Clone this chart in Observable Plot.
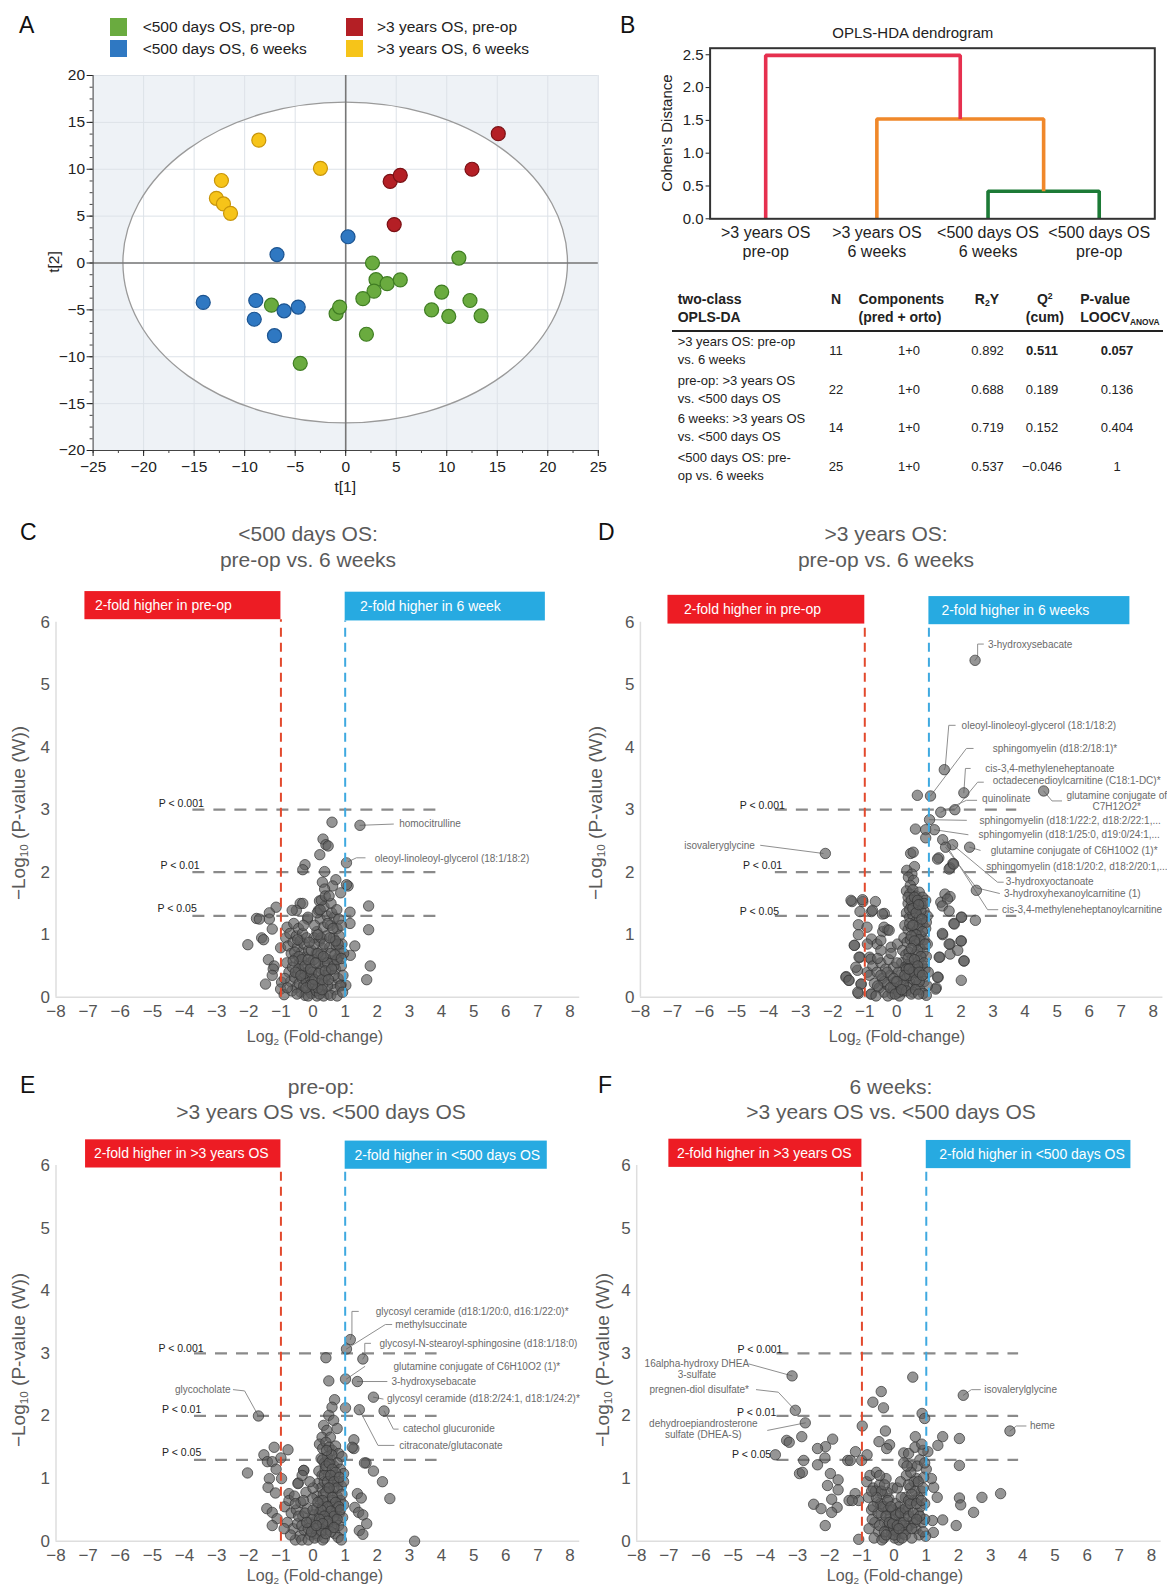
<!DOCTYPE html>
<html><head><meta charset="utf-8">
<script src="https://cdn.jsdelivr.net/npm/d3@7"></script>
<script src="https://cdn.jsdelivr.net/npm/@observablehq/plot@0.6"></script>
<style>
body{margin:0;background:#fff;}
#page{position:relative;width:1167px;height:1586px;overflow:hidden;font-family:'Liberation Sans',Arial,Helvetica,sans-serif;background:#fff;}
.abs{position:absolute;white-space:nowrap;}
sub{font-size:0.62em;vertical-align:-0.3em;line-height:0;}
sup{font-size:0.62em;vertical-align:0.55em;line-height:0;}
</style></head><body><div id="page"></div>
<script>
// ---------------- DATA ----------------
// Panel A: OPLS-DA scores t[1], t[2]
const pcaLegend = ["<500 days OS, pre-op", "<500 days OS, 6 weeks", ">3 years OS, pre-op", ">3 years OS, 6 weeks"];
const pcaGreen = [[2.65,0],[11.2,0.53],[3.0,-1.78],[4.1,-2.2],[5.4,-1.8],[2.8,-3.0],[1.7,-3.8],[9.5,-3.1],[12.3,-4.0],[8.5,-5.0],[10.2,-5.7],[13.4,-5.65],[-7.35,-4.5],[-0.95,-5.4],[-0.6,-4.7],[2.05,-7.6],[-4.5,-10.7]];
const pcaBlue = [[0.23,2.8],[-6.8,0.9],[-14.1,-4.2],[-8.9,-4.0],[-9.05,-6.0],[-6.1,-5.1],[-4.7,-4.7],[-7.05,-7.75]];
const pcaYellow = [[-8.6,13.1],[-2.5,10.1],[-12.3,8.8],[-12.8,6.9],[-12.1,6.3],[-11.4,5.3]];
const pcaRed = [[15.1,13.8],[12.5,10.0],[4.4,8.7],[5.4,9.35],[4.8,4.1]];
const pcaEllipse = [22, 17.1]; // Hotelling T2 radii (t[1], t[2])

// Panel B: dendrogram
const dendroLeaves = [">3 years OS\npre-op", ">3 years OS\n6 weeks", "<500 days OS\n6 weeks", "<500 days OS\npre-op"];
const dendroHeights = [0.42, 1.52, 2.49];
const tableHeadRows = ["two-class", "OPLS-DA"];
const tableRows = [
  [">3 years OS: pre-op", "vs. 6 weeks", "11", "1+0", "0.892", "0.511", "0.057"],
  ["pre-op: >3 years OS", "vs. <500 days OS", "22", "1+0", "0.688", "0.189", "0.136"],
  ["6 weeks: >3 years OS", "vs. <500 days OS", "14", "1+0", "0.719", "0.152", "0.404"],
  ["<500 days OS: pre-", "op vs. 6 weeks", "25", "1+0", "0.537", "\u22120.046", "1"]
];

// Volcano thresholds (-log10 p)
const pThresholds = [3, 2, 1.3];
const pThresholdLabels = ["P < 0.001", "P < 0.01", "P < 0.05"];

// Panel C points [log2FC, -log10 p]
const volcanoC = [
[0.59,2.80],[1.46,2.75],[0.31,2.53],[0.40,2.44],[0.47,2.42],[0.21,2.28],[1.04,2.15],[-0.25,2.12],[-0.32,2.04],[0.36,2.01],[0.71,1.88],[0.29,1.84],[0.61,1.78],[1.09,1.78],[1.04,1.80],[0.86,1.67],[0.36,1.73],[1.73,1.46],[1.15,1.36],[1.15,1.18],[1.73,1.08],[1.30,0.82],[1.16,0.67],[1.78,0.50],[1.67,0.28],[1.02,0.19],[0.87,0.20],
[-1.15,1.44],[-1.36,1.35],[-1.36,1.25],[-1.76,1.26],[-1.67,1.25],[-1.27,1.09],[-1.60,0.95],[-1.54,0.92],[-2.03,0.84],[-1.01,0.79],[-1.39,0.60],[-1.21,0.50],[-1.24,0.45],[-1.27,0.35],[-1.48,0.21],[-0.98,0.24],[-1.01,0.13],[-0.90,0.04],
[-0.40,1.50],[-0.32,1.50],[-0.52,1.39],[-0.17,1.25],[0.20,1.54],[0.17,1.39],[-0.65,1.39],[-0.81,1.12],[-0.16,1.28],
[-0.85,0.95],[-0.78,0.82],[-0.72,1.02],[-0.68,0.70],[-0.62,0.88],[-0.60,1.18],[-0.55,0.62],[-0.52,0.98],[-0.48,0.80],[-0.45,1.10],[-0.42,0.55],[-0.40,0.90],[-0.36,0.72],[-0.33,1.02],[-0.30,0.48],[-0.28,0.85],[-0.24,0.64],[-0.20,0.95],[-0.18,0.40],[-0.14,0.75],[-0.10,0.55],[-0.82,0.55],[-0.75,0.40],[-0.70,0.25],[-0.64,0.48],[-0.58,0.32],[-0.53,0.15],[-0.47,0.38],[-0.43,0.22],[-0.38,0.08],[-0.34,0.30],[-0.29,0.18],[-0.25,0.03],[-0.21,0.26],[-0.16,0.12],[-0.12,0.33],[-0.08,0.20],[-0.05,0.06],[-0.66,0.10],[-0.57,0.72],[-0.50,0.05],[-0.44,0.65],[-0.27,0.38],[-0.15,0.02],[-0.88,0.30],[-0.80,0.15],
[0.05,0.15],[0.08,0.40],[0.10,0.70],[0.12,1.05],[0.15,0.25],[0.18,0.55],[0.20,0.90],[0.22,1.25],[0.25,0.10],[0.27,0.45],[0.30,0.78],[0.32,1.12],[0.34,1.45],[0.37,0.30],[0.40,0.62],[0.42,0.98],[0.44,1.30],[0.47,0.05],[0.49,0.42],[0.52,0.80],[0.54,1.15],[0.56,1.50],[0.59,0.22],[0.61,0.58],[0.63,0.95],[0.66,1.28],[0.68,0.12],[0.70,0.45],[0.72,0.82],[0.75,1.10],[0.78,0.30],[0.80,0.65],[0.82,0.98],[0.85,0.18],[0.88,0.50],[0.90,0.85],[0.93,0.35],[0.95,0.70],[0.13,1.35],[0.26,1.55],[0.38,1.62],[0.50,1.62],[0.58,1.35],[0.74,1.40],[0.80,1.25],[0.88,1.15],[0.03,0.95],[0.00,0.30],[0.02,0.60],[0.12,0.02],[0.33,0.02],[0.55,0.03],[0.75,0.02],[0.92,0.08],[0.45,0.18],[0.65,0.35],[0.35,0.55],[0.25,0.68],
[0.10,0.10],[0.20,0.05],[0.30,0.20],[0.40,0.35],[0.15,0.15],[-0.05,0.40],[0.05,0.28],[0.28,0.12],
[-0.45,0.45],[-0.35,0.60],[-0.25,0.50],[-0.15,0.60],[-0.05,0.75],[0.05,0.85],[0.15,0.70],[0.25,0.95],[0.35,0.85],[0.45,0.55],[0.55,0.70],[0.65,0.50],[0.75,0.60],[0.85,0.75],[-0.55,0.40],[-0.38,0.35],[-0.22,0.15],[-0.08,0.45],[0.08,0.55],[0.18,0.38],[0.28,0.28],[0.38,0.42],[0.48,0.28],[0.58,0.45],[0.68,0.68],[0.78,0.85],[0.88,0.62],[-0.62,0.58],[-0.48,0.92],[-0.30,1.15],[0.22,1.40],[0.46,1.18],[0.62,1.10],[0.70,0.90],[0.15,1.00],[0.05,1.15],[-0.02,0.20],[-0.12,0.88],[0.32,0.65],[0.52,0.95]
];
const volcanoD = [
[2.44,5.39],[1.48,3.64],[2.09,3.27],[4.58,3.30],[0.64,3.23],[1.05,3.22],[1.37,2.96],[1.81,3.00],[1.02,2.84],[0.58,2.69],[0.90,2.68],[1.17,2.68],[0.90,2.55],[1.43,2.52],[1.74,2.44],[1.52,2.40],[2.27,2.40],[-2.23,2.30],[0.43,2.30],[0.51,2.32],[1.31,2.23],[1.75,2.14],[1.66,2.07],[0.55,2.09],[2.48,1.71],[1.50,1.65],[1.66,1.61],[1.37,1.52],[2.01,1.28],[2.45,1.23],[1.78,1.18],[1.43,1.00],[2.01,0.90],[1.66,0.85],[1.34,0.64],[1.66,0.69],[2.09,0.58],[2.01,0.27],[1.23,0.15],[1.29,0.32],
[-1.40,1.53],[-1.06,1.53],[-0.67,1.53],[-1.15,1.37],[-0.79,1.37],[-0.39,1.34],[-1.20,1.16],[-0.93,1.12],[-0.44,1.05],[-0.29,1.08],[-1.20,1.00],[-0.79,0.93],[-1.32,0.83],[-0.62,0.85],[-1.15,0.64],[-0.85,0.64],[-1.23,0.43],[-1.58,0.33],[-1.50,0.27],[-1.11,0.21],[-1.20,0.06],[-0.79,0.05],
[1.27,2.21],[1.63,2.05],[1.77,2.13],[1.58,1.57],[1.42,1.46],[1.63,1.38],[1.79,1.17],[2.02,1.28],[1.42,1.02],[1.63,0.85],[2.00,0.90],[1.90,0.75],[2.10,0.58],[1.32,0.64],[1.27,0.32],[1.21,0.13],
[0.31,2.03],[0.47,1.97],[0.36,1.92],[0.52,1.87],[0.42,1.79],
[-1.43,1.55],[-1.07,1.56],[-0.76,1.39],[-0.45,1.33],[-0.40,1.12],[-0.24,1.07],[-0.50,0.91],[-0.92,0.85],[-1.33,0.83],[-1.18,0.64],[-0.81,0.61],[-0.50,0.75],[-0.18,0.80],[0.02,0.85],[-1.28,0.48],[-0.92,0.40],[-1.59,0.32],[-1.49,0.27],[-1.12,0.21],[-1.22,0.08],[-0.81,0.05],
[0.30,1.70],[0.40,1.65],[0.50,1.72],[0.60,1.62],[0.70,1.68],[0.80,1.60],[0.90,1.55],[0.35,1.50],[0.45,1.45],[0.55,1.52],[0.65,1.42],[0.75,1.48],[0.85,1.38],[0.95,1.30],[0.30,1.35],[0.40,1.28],[0.50,1.32],[0.60,1.22],[0.70,1.28],[0.80,1.18],[0.90,1.10],[0.25,1.15],[0.35,1.08],[0.45,1.12],[0.55,1.02],[0.65,1.08],[0.75,0.98],[0.85,0.92],[0.95,0.85],[0.22,0.95],[0.32,0.88],[0.42,0.92],[0.52,0.82],[0.62,0.88],[0.72,0.78],[0.82,0.72],[0.92,0.65],[0.18,0.75],[0.28,0.68],[0.38,0.72],[0.48,0.62],[0.58,0.68],[0.68,0.58],[0.78,0.52],[0.88,0.45],[0.98,0.40],[0.15,0.55],[0.25,0.48],[0.35,0.52],[0.45,0.42],[0.55,0.48],[0.65,0.38],[0.75,0.32],[0.85,0.25],[0.95,0.18],[0.12,0.35],[0.22,0.28],[0.32,0.32],[0.42,0.22],[0.52,0.28],[0.62,0.18],[0.72,0.12],[0.82,0.06],[0.92,0.03],
[-0.85,0.35],[-0.75,0.50],[-0.70,0.22],[-0.62,0.40],[-0.55,0.15],[-0.50,0.55],[-0.45,0.30],[-0.40,0.08],[-0.35,0.45],[-0.30,0.20],[-0.25,0.60],[-0.20,0.35],[-0.15,0.05],[-0.10,0.48],[-0.05,0.25],[0.00,0.12],[0.05,0.40],[0.10,0.18],[0.08,0.02],[-0.65,0.02],[-0.28,0.02],[0.00,0.55],[-0.60,0.62],[-0.18,0.70],
[0.20,0.10],[0.35,0.15],[0.50,0.08],[0.60,0.40],[0.40,0.50],[0.70,0.25],[-0.10,0.15],[0.05,0.08],
[0.35,1.60],[0.45,1.55],[0.55,1.60],[0.65,1.55],[0.75,1.38],[0.85,1.50],[0.40,1.40],[0.50,1.42],[0.60,1.35],[0.70,1.15],[0.80,1.05],[0.40,1.18],[0.50,1.15],[0.60,1.00],[0.70,0.92],[0.45,0.98],[0.55,0.90],[0.65,0.75],[0.75,0.65],[0.85,0.55],[0.35,0.62],[0.45,0.78],[0.55,0.60],[0.65,0.50],[0.30,0.45],[0.40,0.35],[0.50,0.40],[0.60,0.28],[0.70,0.40],[0.80,0.35],[0.20,0.20],[0.30,0.10],[0.45,0.05],[0.58,0.12],[0.68,0.05],[-0.40,0.25],[-0.30,0.40],[-0.20,0.15],[-0.10,0.30],[0.00,0.25],[-0.50,0.35],[-0.60,0.18],[-0.05,0.05],[0.15,0.12],[0.25,0.35],[0.38,0.45],[0.88,0.85],[0.92,1.20],[0.78,1.25],[0.68,1.48]
];
const volcanoE = [
[1.16,3.22],[1.04,3.07],[0.40,2.93],[1.55,2.91],[0.49,2.56],[1.01,2.59],[1.38,2.55],[1.88,2.30],[0.67,2.26],[1.01,2.13],[1.44,2.10],[2.21,2.08],[-1.70,2.00],[1.27,1.62],[1.27,1.48],[1.65,1.25],[1.88,1.12],[2.16,0.95],[2.39,0.68],[3.16,0.00],
[1.38,0.76],[1.50,0.69],[1.30,0.54],[1.42,0.46],[1.55,0.42],[1.67,0.28],[1.44,0.17],[1.55,0.11],
[-2.04,1.09],[-1.53,1.38],[-1.21,1.50],[-0.78,1.46],[-1.42,1.27],[-1.27,1.27],[-1.00,1.33],[-1.15,1.15],[-1.36,1.00],[-0.98,1.00],[-1.40,0.86],[-1.17,0.77],[-1.44,0.52],[-1.27,0.46],[-1.12,0.36],[-1.27,0.25],[-0.46,0.93],[-0.29,1.13],
[0.59,2.14],[0.49,2.01],[0.33,1.85],[0.64,1.93],[0.43,1.77],[0.75,1.80],[0.28,1.66],[1.22,1.50],[0.54,1.66],[1.60,1.25],
[-0.29,1.13],[-0.47,0.92],[-0.34,1.05],[-0.75,0.76],
[0.20,1.55],[0.30,1.48],[0.40,1.58],[0.50,1.50],[0.60,1.45],[0.70,1.52],[0.80,1.40],[0.90,1.35],[0.25,1.32],[0.35,1.25],[0.45,1.35],[0.55,1.28],[0.65,1.20],[0.75,1.25],[0.85,1.15],[0.95,1.08],[0.18,1.12],[0.28,1.05],[0.38,1.15],[0.48,1.05],[0.58,0.98],[0.68,1.05],[0.78,0.95],[0.88,0.88],[0.15,0.92],[0.25,0.85],[0.35,0.95],[0.45,0.85],[0.55,0.78],[0.65,0.85],[0.75,0.72],[0.85,0.65],[0.95,0.58],[0.12,0.72],[0.22,0.65],[0.32,0.75],[0.42,0.62],[0.52,0.58],[0.62,0.65],[0.72,0.52],[0.82,0.45],[0.92,0.38],[0.10,0.52],[0.20,0.45],[0.30,0.55],[0.40,0.42],[0.50,0.38],[0.60,0.45],[0.70,0.32],[0.80,0.25],[0.90,0.18],[0.08,0.32],[0.18,0.25],[0.28,0.35],[0.38,0.22],[0.48,0.18],[0.58,0.25],[0.68,0.12],[0.78,0.06],[0.88,0.02],[0.15,0.08],[0.35,0.05],
[-0.88,0.55],[-0.80,0.30],[-0.75,0.65],[-0.68,0.45],[-0.62,0.20],[-0.58,0.72],[-0.52,0.50],[-0.48,0.28],[-0.42,0.08],[-0.38,0.62],[-0.32,0.40],[-0.28,0.18],[-0.22,0.78],[-0.18,0.52],[-0.12,0.30],[-0.08,0.10],[-0.02,0.68],[0.02,0.42],[0.05,0.20],[-0.55,0.02],[-0.35,0.02],[-0.15,0.02],[0.00,0.85],[-0.70,0.10],[-0.90,0.20],[-0.10,0.95],
[0.10,0.12],[0.25,0.15],[0.45,0.28],[0.05,0.05],[-0.05,0.35],[0.30,0.02],
[0.30,1.30],[0.40,1.20],[0.50,1.25],[0.60,1.15],[0.70,1.10],[0.35,1.05],[0.45,0.95],[0.55,1.05],[0.65,0.95],[0.75,0.85],[0.40,0.78],[0.50,0.85],[0.60,0.70],[0.70,0.62],[0.80,0.55],[0.30,0.65],[0.45,0.55],[0.55,0.48],[0.65,0.40],[0.75,0.35],[0.25,0.50],[0.35,0.40],[0.45,0.32],[0.55,0.15],[0.65,0.22],[0.20,0.35],[0.30,0.28],[0.40,0.12],[-0.45,0.40],[-0.35,0.25],[-0.25,0.45],[-0.15,0.20],[-0.05,0.15],[0.00,0.50],[-0.55,0.60],[-0.30,0.65],[-0.20,0.30],[0.10,0.25],[0.15,0.62],[0.85,0.50],[0.90,0.75],[0.95,0.95],[0.82,1.02],[0.58,1.38],[0.42,1.45]
];
const volcanoF = [
[-3.17,2.64],[0.58,2.62],[-0.40,2.39],[2.15,2.33],[-0.66,2.22],[-0.33,2.13],[-3.07,2.09],[0.87,2.04],[0.95,1.96],[-2.76,1.89],[-0.99,1.84],[3.60,1.76],[-0.27,1.76],[0.66,1.67],[1.51,1.67],[2.03,1.64],[-2.87,1.67],[-3.34,1.61],[-3.26,1.58],[-1.91,1.63],[-2.13,1.51],[-2.38,1.48],[-0.47,1.59],[-0.14,1.54],[-0.23,1.48],[0.30,1.41],[-1.20,1.43],[-3.69,1.38],[-2.15,1.33],[-2.81,1.29],[-1.44,1.29],[-1.36,1.29],[-1.01,1.29],[-0.84,1.38],[1.36,1.53],[1.05,1.43],[2.03,1.21],[-2.38,1.22],[-2.94,1.08],[-2.85,1.10],[-1.98,1.08],[-1.74,0.98],[-2.07,0.89],[-1.74,0.82],[-1.21,0.76],[-1.40,0.65],[-1.10,0.65],[-1.30,0.65],[-1.94,0.67],[-2.50,0.59],[-2.27,0.52],[-1.77,0.54],[-1.94,0.46],[-2.14,0.25],[-1.10,0.03],
[1.34,0.70],[2.03,0.69],[2.07,0.58],[2.73,0.70],[3.31,0.76],[2.47,0.46],[1.51,0.34],[1.93,0.25],[1.19,0.33],[1.22,0.14],[1.23,0.86],[1.16,1.00],
[-0.85,0.95],[-0.80,0.70],[-0.75,1.05],[-0.70,0.50],[-0.65,0.85],[-0.60,0.30],[-0.55,1.10],[-0.52,0.62],[-0.48,0.15],[-0.45,0.90],[-0.40,0.42],[-0.36,0.75],[-0.32,0.05],[-0.28,0.55],[-0.25,1.00],[-0.20,0.25],[-0.16,0.68],[-0.12,0.40],[-0.08,0.12],[-0.05,0.85],[-0.78,0.20],[-0.68,0.35],[-0.58,0.80],[-0.42,0.60],[-0.30,0.30],[-0.18,0.50],[-0.10,0.20],[-0.62,0.05],[-0.38,0.02],[-0.22,0.78],
[0.30,1.25],[0.38,1.05],[0.45,1.40],[0.50,0.85],[0.55,1.20],[0.60,0.65],[0.65,1.50],[0.70,1.00],[0.75,0.45],[0.80,1.30],[0.85,0.80],[0.90,1.45],[0.95,0.60],[1.00,1.15],[0.35,0.70],[0.42,0.50],[0.48,0.25],[0.58,0.35],[0.68,0.20],[0.78,0.10],[0.88,0.30],[0.98,0.08],[0.32,0.40],[0.62,0.95],[0.72,1.20],[0.82,0.55],[0.92,1.02],[0.52,1.10],[0.40,0.20],[0.86,1.55],
[0.00,0.35],[0.05,0.60],[0.08,0.15],[0.12,0.45],[0.15,0.02],[0.18,0.30],[0.22,0.70],[0.25,0.12],[0.28,0.50],[0.02,0.05],[0.10,0.85],[0.20,0.95],[0.25,0.25],[-0.02,0.18],
[0.35,0.10],[0.55,0.05],[0.65,0.30],[0.45,0.65],[0.75,0.70],[0.95,0.35],[0.15,0.55],[-0.05,0.50],
[-0.50,0.45],[-0.45,0.25],[-0.35,0.55],[-0.30,0.15],[-0.25,0.40],[-0.15,0.30],[-0.05,0.28],[0.05,0.42],[0.10,0.25],[0.20,0.45],[0.30,0.30],[0.35,0.52],[0.45,0.40],[0.50,0.60],[0.55,0.20],[0.60,0.45],[0.65,0.80],[0.70,0.60],[0.75,0.95],[0.80,0.40],[0.85,0.65],[0.90,0.85],[0.95,1.25],[0.90,0.15],[0.70,0.35],[0.45,0.90],[0.55,0.75],[0.40,1.20],[-0.40,0.80],[-0.55,0.70],[-0.65,0.55],[-0.70,0.80],[-0.45,1.05],[-0.30,0.90],[-0.20,0.65],[-0.10,0.55],[0.00,0.10],[0.15,0.20],[-0.25,0.10],[0.25,0.05]
];

// Box captions
const boxTextC = ["2-fold higher in pre-op", "2-fold higher in 6 week"];
const boxTextD = ["2-fold higher in pre-op", "2-fold higher in 6 weeks"];
const boxTextE = ["2-fold higher in >3 years OS", "2-fold higher in <500 days OS"];
const boxTextF = ["2-fold higher in >3 years OS", "2-fold higher in <500 days OS"];

// Annotated metabolites
const labelsC = [
  {t:"homocitrulline", x:2.68, y:2.77},
  {t:"oleoyl-linoleoyl-glycerol (18:1/18:2)", x:1.92, y:2.22}
];
const leadersC = [[[1.46,2.75],[2.50,2.77]], [[1.10,2.17],[1.35,2.23],[1.62,2.23]]];
const labelsD = [
  {t:"3-hydroxysebacate", x:2.84, y:5.64},
  {t:"oleoyl-linoleoyl-glycerol (18:1/18:2)", x:2.02, y:4.35},
  {t:"sphingomyelin (d18:2/18:1)*", x:2.99, y:3.98},
  {t:"cis-3,4-methyleneheptanoate", x:2.76, y:3.66},
  {t:"octadecenedioylcarnitine (C18:1-DC)*", x:2.99, y:3.46},
  {t:"glutamine conjugate of", x:5.29, y:3.23},
  {t:"C7H12O2*", x:6.86, y:3.04, a:"middle"},
  {t:"quinolinate", x:2.66, y:3.17},
  {t:"sphingomyelin (d18:1/22:2, d18:2/22:1,...", x:2.58, y:2.83},
  {t:"sphingomyelin (d18:1/25:0, d19:0/24:1,...", x:2.55, y:2.60},
  {t:"glutamine conjugate of C6H10O2 (1)*", x:2.93, y:2.35},
  {t:"sphingomyelin (d18:1/20:2, d18:2/20:1,...", x:2.79, y:2.09},
  {t:"3-hydroxyoctanoate", x:3.40, y:1.84},
  {t:"3-hydroxyhexanoylcarnitine (1)", x:3.34, y:1.65},
  {t:"cis-3,4-methyleneheptanoylcarnitine", x:3.28, y:1.40},
  {t:"isovaleryglycine", x:-4.43, y:2.43, a:"end"}
];
const leadersD = [
  [[2.44,5.39],[2.52,5.45],[2.52,5.65],[2.70,5.65]],
  [[1.48,3.64],[1.51,3.68],[1.62,4.35],[1.82,4.35]],
  [[1.05,3.22],[2.17,3.98],[2.38,3.98]],
  [[2.09,3.27],[2.14,3.66],[2.29,3.66]],
  [[1.81,3.00],[2.52,3.44],[2.70,3.44]],
  [[4.58,3.30],[4.84,3.14],[5.14,3.14]],
  [[1.37,2.96],[2.17,3.15],[2.49,3.15]],
  [[1.02,2.84],[2.17,2.83]],
  [[1.17,2.68],[2.22,2.60]],
  [[2.27,2.40],[2.60,2.35]],
  [[1.74,2.44],[3.14,1.84],[3.32,1.84]],
  [[1.52,2.40],[2.48,1.75],[3.20,1.66]],
  [[1.43,2.52],[2.83,1.40],[3.15,1.40]],
  [[-4.25,2.43],[-2.30,2.30]]
];
const labelsE = [
  {t:"glycosyl ceramide (d18:1/20:0, d16:1/22:0)*", x:1.95, y:3.67},
  {t:"methylsuccinate", x:2.56, y:3.46},
  {t:"glycosyl-N-stearoyl-sphingosine (d18:1/18:0)", x:2.07, y:3.16},
  {t:"glutamine conjugate of C6H10O2 (1)*", x:2.50, y:2.79},
  {t:"3-hydroxysebacate", x:2.44, y:2.55},
  {t:"glycosyl ceramide (d18:2/24:1, d18:1/24:2)*", x:2.30, y:2.27},
  {t:"catechol glucuronide", x:2.80, y:1.79},
  {t:"citraconate/glutaconate", x:2.68, y:1.53},
  {t:"glycocholate", x:-2.57, y:2.42, a:"end"}
];
const leadersE = [
  [[1.16,3.22],[1.21,3.30],[1.21,3.67],[1.41,3.67]],
  [[1.04,3.07],[2.25,3.46],[2.45,3.46]],
  [[1.55,2.91],[1.61,2.96],[1.61,3.16],[1.79,3.16]],
  [[1.04,2.59],[1.61,2.79]],
  [[1.38,2.55],[2.30,2.55]],
  [[1.88,2.30],[2.18,2.27]],
  [[2.21,2.08],[2.50,1.79],[2.65,1.79]],
  [[1.44,2.10],[2.02,1.53],[2.52,1.53]],
  [[-2.48,2.42],[-2.13,2.40],[-1.70,2.00]]
];
const labelsF = [
  {t:"16alpha-hydroxy DHEA", x:-6.13, y:2.84, a:"middle"},
  {t:"3-sulfate", x:-6.13, y:2.66, a:"middle"},
  {t:"pregnen-diol disulfate*", x:-4.51, y:2.42, a:"end"},
  {t:"dehydroepiandrosterone", x:-5.93, y:1.88, a:"middle"},
  {t:"sulfate (DHEA-S)", x:-5.93, y:1.70, a:"middle"},
  {t:"isovalerylglycine", x:2.80, y:2.42},
  {t:"heme", x:4.22, y:1.84}
];
const leadersF = [
  [[-4.51,2.83],[-3.17,2.64]],
  [[-4.28,2.42],[-3.60,2.38],[-3.07,2.09]],
  [[-3.93,1.77],[-2.76,1.89]],
  [[2.15,2.33],[2.40,2.42],[2.68,2.42]],
  [[3.60,1.76],[3.80,1.84],[4.10,1.84]]
];

// ---------------- DRAWING ----------------
const FONT = "'Liberation Sans', Arial, Helvetica, sans-serif";
const page = document.getElementById('page');
const esc = s => s.replace(/&/g,"&amp;").replace(/</g,"&lt;").replace(/>/g,"&gt;");

function place(svg, left, top) {
  const d = document.createElement('div');
  d.style.cssText = `position:absolute;left:${left}px;top:${top}px;`;
  d.appendChild(svg);
  page.appendChild(d);
}
function addText(html, x, y, o = {}) {
  const d = document.createElement('div');
  d.className = 'abs';
  const tr = ({c:'translate(-50%,-50%)', l:'translate(0,-50%)', r:'translate(-100%,-50%)'})[o.a || 'c'] + (o.rot ? ' rotate(-90deg)' : '');
  d.style.cssText = `left:${x}px;top:${y}px;transform:${tr};font-size:${o.s||14}px;color:${o.c||'#222'};font-weight:${o.w||'normal'};line-height:${o.lh||1.2};text-align:${o.ta||'center'};`;
  d.innerHTML = html;
  page.appendChild(d);
}
function addBox(x, y, w, h, color) {
  const d = document.createElement('div');
  d.style.cssText = `position:absolute;left:${x}px;top:${y}px;width:${w}px;height:${h}px;background:${color};`;
  page.appendChild(d);
}

// ---- Panel A ----
function ellipseMark(fill, stroke) {
  return (index, scales) => {
    const e = document.createElementNS("http://www.w3.org/2000/svg", "ellipse");
    const cx = scales.x(0), cy = scales.y(0);
    e.setAttribute("cx", cx); e.setAttribute("cy", cy);
    e.setAttribute("rx", Math.abs(scales.x(pcaEllipse[0]) - cx));
    e.setAttribute("ry", Math.abs(scales.y(pcaEllipse[1]) - cy));
    e.setAttribute("fill", fill); e.setAttribute("stroke", stroke); e.setAttribute("stroke-width", 1.3);
    return e;
  };
}
const pcaColors = [["#6aab3f","#3f7d22"],["#2f78c2","#1c5491"],["#b41f25","#7a1014"],["#f6c419","#c8950a"]];
const pcaGroups = [pcaGreen, pcaBlue, pcaRed, pcaYellow];
const plotA = Plot.plot({
  width: 620, height: 500, marginLeft: 92.6, marginRight: 22.2, marginTop: 75, marginBottom: 50,
  x: {domain: [-25, 25]}, y: {domain: [-20, 20]},
  style: {fontFamily: FONT, fontSize: "15.5px", background: "transparent", overflow: "visible", maxWidth: "none", color: "#222"},
  marks: [
    Plot.frame({fill: "#eef2f6", stroke: "none"}),
    ellipseMark("white", "none"),
    Plot.gridX({ticks: d3.range(-25, 26, 5), stroke: "#dde2e8", strokeOpacity: 1}),
    Plot.gridY({ticks: d3.range(-20, 21, 5), stroke: "#dde2e8", strokeOpacity: 1}),
    ellipseMark("none", "#9a9a9a"),
    Plot.ruleX([0], {stroke: "#777", strokeWidth: 1.6}),
    Plot.ruleY([0], {stroke: "#777", strokeWidth: 1.6}),
    Plot.ruleX([-25], {stroke: "#444"}),
    Plot.ruleY([-20], {stroke: "#444"}),
    ...pcaGroups.map((g, i) => Plot.dot(g, {x: d => d[0], y: d => d[1], r: 7, fill: pcaColors[i][0], stroke: pcaColors[i][1], strokeWidth: 1.2})),
    Plot.axisX({ticks: d3.range(-25, 25.1, 2.5), tickSize: 3, tickFormat: () => "", label: null, color: "#444"}),
    Plot.axisX({ticks: d3.range(-25, 26, 5), tickSize: 6, tickPadding: 4, label: null, color: "#222"}),
    Plot.axisY({ticks: d3.range(-20, 20.1, 1.25), tickSize: 3, tickFormat: () => "", label: null, color: "#444"}),
    Plot.axisY({ticks: d3.range(-20, 21, 5), tickSize: 6, tickPadding: 2, label: null, color: "#222"})
  ]
});
place(plotA, 0, 0);
addText("A", 19, 26, {a:'l', s:23, c:'#111'});
const legPos = [[110,27,142.7],[110,48.7,142.7],[345.6,27,377],[345.6,48.7,377]];
pcaLegend.forEach((t, i) => {
  const [sx, cy, tx] = legPos[i];
  addBox(sx, cy - 8.7, 17, 17.4, pcaColors[i][0]);
  addText(esc(t), tx, cy, {a:'l', s:15.5, c:'#222'});
});
addText("t[1]", 345.2, 487, {s:15.5});
addText("t[2]", 53.6, 262, {s:15.5, rot:true});

// ---- Panel B dendrogram ----
const dendroColors = ["#1c7a36", "#f0882a", "#e6304f"];
const leafX = dendroLeaves.map((d, i) => i);
const n1x = (leafX[2] + leafX[3]) / 2, n2x = (leafX[1] + n1x) / 2;
const dendroLinks = [
  [[leafX[2],0],[leafX[2],dendroHeights[0]],[leafX[3],dendroHeights[0]],[leafX[3],0]],
  [[leafX[1],0],[leafX[1],dendroHeights[1]],[n1x,dendroHeights[1]],[n1x,dendroHeights[0]]],
  [[leafX[0],0],[leafX[0],dendroHeights[2]],[n2x,dendroHeights[2]],[n2x,dendroHeights[1]]]
];
const plotB = Plot.plot({
  width: 567, height: 270, marginLeft: 109.6, marginRight: 12.7, marginTop: 47.7, marginBottom: 51.7,
  x: {domain: [-0.5, 3.5], axis: null}, y: {domain: [0, 2.6]},
  style: {fontFamily: FONT, fontSize: "15px", background: "transparent", overflow: "visible", maxWidth: "none", color: "#222"},
  marks: [
    ...dendroLinks.map((l, i) => Plot.line(l, {x: d => d[0], y: d => d[1], stroke: dendroColors[i], strokeWidth: 3.6, strokeLinejoin: "miter", strokeLinecap: "butt"})),
    Plot.frame({stroke: "#333", strokeWidth: 2}),
    Plot.axisY({ticks: [0, 0.5, 1, 1.5, 2, 2.5], tickFormat: d3.format(".1f"), tickSize: 4, tickPadding: 2.5, label: null, color: "#222"}),
    Plot.text(dendroLeaves, {x: (d, i) => leafX[i], y: () => 0, text: d => d, dy: 23, lineHeight: 1.19, fontSize: 16, fill: "#222"})
  ]
});
place(plotB, 600, 0);
addText("B", 620, 26, {a:'l', s:23, c:'#111'});
addText("OPLS-HDA dendrogram", 912.8, 33, {s:15});
addText("Cohen\u2019s Distance", 667, 133, {s:15, rot:true});

// ---- Table ----
const hdrY1 = 299.3, hdrY2 = 316.7;
addText(tableHeadRows[0], 677.7, hdrY1, {a:'l', s:14, w:'bold'});
addText(tableHeadRows[1], 677.7, hdrY2, {a:'l', s:14, w:'bold'});
addText("N", 836, hdrY1, {s:14, w:'bold'});
addText("Components", 858.5, hdrY1, {a:'l', s:14, w:'bold'});
addText("(pred + orto)", 858.5, hdrY2, {a:'l', s:14, w:'bold'});
addText("R<sub>2</sub>Y", 987, hdrY1, {s:14, w:'bold'});
addText("Q<sup>2</sup>", 1044.8, hdrY1, {s:14, w:'bold'});
addText("(cum)", 1044.8, hdrY2, {s:14, w:'bold'});
addText("P-value", 1080.2, hdrY1, {a:'l', s:14, w:'bold'});
addText("LOOCV<sub style='font-size:0.6em;vertical-align:-0.45em'>ANOVA</sub>", 1080.2, hdrY2, {a:'l', s:14, w:'bold'});
addBox(672, 330, 491, 2, "#222");
const rowY = [350.7, 390, 427.7, 466.7];
const colX = [836, 909, 987.6, 1042, 1117];
tableRows.forEach((r, i) => {
  addText(esc(r[0]), 677.7, rowY[i] - 9.2, {a:'l', s:13, c:'#222'});
  addText(esc(r[1]), 677.7, rowY[i] + 9.2, {a:'l', s:13, c:'#222'});
  r.slice(2).forEach((v, j) => {
    const bold = i === 0 && (j === 3 || j === 4);
    addText(esc(v), colX[j], rowY[i], {s:13, c:'#222', w: bold ? 'bold' : 'normal'});
  });
});

// ---- Volcano plots ----
function labelMarks(labels, fontSize) {
  return ["start", "middle", "end"].map(a => Plot.text(labels.filter(d => (d.a || "start") === a),
    {x: "x", y: "y", text: "t", textAnchor: a, fontSize, fill: "#6a6a6a"}));
}
function volcano(cfg) {
  const {pts, boxes, labels, leaders, plabels, hx, width, height, ml, mr, mt, mb} = cfg;
  const leaderData = leaders.flatMap((seg, i) => seg.map(p => ({x: p[0], y: p[1], id: i})));
  const pl = pThresholdLabels.map((t, i) => ({t, x: plabels[i][0], y: plabels[i][1]}));
  return Plot.plot({
    width, height, marginLeft: ml, marginRight: mr, marginTop: mt, marginBottom: mb,
    x: {domain: [-8, 8]}, y: {domain: [0, 6]},
    style: {fontFamily: FONT, fontSize: "17px", background: "transparent", overflow: "visible", maxWidth: "none", color: "#555"},
    marks: [
      Plot.ruleY([0], {x1: -8, x2: 8.3, stroke: "#dedede", strokeWidth: 1.5}),
      Plot.ruleX([-8], {y1: 0, y2: 6, stroke: "#dedede", strokeWidth: 1.5}),
      Plot.rect([boxes[0]], {x1: "x1", x2: "x2", y1: "y1", y2: "y2", fill: "#ed1c24"}),
      Plot.rect([boxes[1]], {x1: "x1", x2: "x2", y1: "y1", y2: "y2", fill: "#27aae1"}),
      Plot.text(boxes, {x: "tx", y: d => (d.y1 + d.y2) / 2, text: "text", fill: "white", fontSize: 14, textAnchor: "start"}),
      Plot.ruleY(pThresholds, {x1: hx[0], x2: hx[1], stroke: "#8a8a8a", strokeWidth: 2.2, strokeDasharray: "12,9"}),
      Plot.text(pl, {x: "x", y: "y", text: "t", textAnchor: "start", fontSize: 10.5, fill: "#222"}),
      Plot.line(leaderData, {x: "x", y: "y", z: "id", stroke: "#8f8f8f", strokeWidth: 1}),
      Plot.dot(pts, {x: d => d[0], y: d => d[1], r: 5.2, fill: "#5e5e5e", fillOpacity: 0.66, stroke: "#333", strokeOpacity: 0.7, strokeWidth: 1}),
      Plot.ruleX([-1], {y1: 0, y2: boxes[0].y1, stroke: "#e2492d", strokeWidth: 2, strokeDasharray: "9,6"}),
      Plot.ruleX([1], {y1: 0, y2: boxes[1].y1, stroke: "#3fa9e0", strokeWidth: 2, strokeDasharray: "9,6"}),
      ...labelMarks(labels, 10),
      Plot.axisX({ticks: d3.range(-8, 9), tickSize: 0, tickPadding: 8, label: null}),
      Plot.axisY({ticks: d3.range(0, 7), tickSize: 0, tickPadding: 6, tickFormat: d3.format("d"), label: null})
    ]
  });
}
const mk = (r, b, texts, tx) => [
  {x1: r[0], x2: r[1], y1: r[2], y2: r[3], tx: tx[0], text: texts[0]},
  {x1: b[0], x2: b[1], y1: b[2], y2: b[3], tx: tx[1], text: texts[1]}
];
const plotC = volcano({pts: volcanoC, boxes: mk([-7.1,-1,6.04,6.49],[1,7.23,6.02,6.48], boxTextC, [-6.79,1.46]),
  labels: labelsC, leaders: leadersC, plabels: [[-4.80,3.10],[-4.75,2.10],[-4.84,1.42]], hx: [-3.74,3.86],
  width: 580, height: 460, ml: 55.5, mr: 10.4, mt: 41.7, mb: 43.3});
place(plotC, 0, 580);
const plotD = volcano({pts: volcanoD, boxes: mk([-7.14,-1,5.97,6.43],[1,7.27,5.96,6.41], boxTextD, [-6.64,1.39]),
  labels: labelsD, leaders: leadersD, plabels: [[-4.90,3.06],[-4.80,2.10],[-4.90,1.37]], hx: [-3.79,3.74],
  width: 587, height: 460, ml: 59.9, mr: 14.2, mt: 41.7, mb: 43.3});
place(plotD, 580, 580);
const plotE = volcano({pts: volcanoE, boxes: mk([-7.08,-1,5.96,6.41],[1,7.29,5.94,6.39], boxTextE, [-6.82,1.29]),
  labels: labelsE, leaders: leadersE, plabels: [[-4.81,3.08],[-4.70,2.10],[-4.70,1.41]], hx: [-3.69,3.86],
  width: 580, height: 466, ml: 55.5, mr: 10.4, mt: 45, mb: 45.3});
place(plotE, 0, 1120);
const plotF = volcano({pts: volcanoF, boxes: mk([-7.0,-1,5.97,6.42],[1,7.36,5.95,6.40], boxTextF, [-6.75,1.40]),
  labels: labelsF, leaders: leadersF, plabels: [[-4.87,3.06],[-4.88,2.06],[-5.04,1.38]], hx: [-3.64,3.87],
  width: 587, height: 466, ml: 56.2, mr: 16, mt: 45, mb: 45.3});
place(plotF, 580, 1120);

// Volcano titles & labels
const TG = '#5a5a5a';
addText("C", 20, 533, {a:'l', s:23, c:'#111'});
addText("D", 598, 533, {a:'l', s:23, c:'#111'});
addText("E", 20, 1086, {a:'l', s:23, c:'#111'});
addText("F", 598, 1086, {a:'l', s:23, c:'#111'});
addText(esc("<500 days OS:"), 308, 534, {s:21, c:TG});
addText("pre-op vs. 6 weeks", 308, 560, {s:21, c:TG});
addText(esc(">3 years OS:"), 886, 534, {s:21, c:TG});
addText("pre-op vs. 6 weeks", 886, 560, {s:21, c:TG});
addText("pre-op:", 321, 1087, {s:21, c:TG});
addText(esc(">3 years OS vs. <500 days OS"), 321, 1112, {s:21, c:TG});
addText("6 weeks:", 891, 1087, {s:21, c:TG});
addText(esc(">3 years OS vs. <500 days OS"), 891, 1112, {s:21, c:TG});
const yTitle = "\u2212Log<sub>10</sub> (P-value (W))";
const xTitle = "Log<sub>2</sub> (Fold-change)";
addText(yTitle, 19, 813, {s:19, c:TG, rot:true});
addText(yTitle, 596, 813, {s:19, c:TG, rot:true});
addText(yTitle, 19, 1360, {s:19, c:TG, rot:true});
addText(yTitle, 603, 1360, {s:19, c:TG, rot:true});
addText(xTitle, 315, 1037, {s:16, c:TG});
addText(xTitle, 897, 1037, {s:16, c:TG});
addText(xTitle, 315, 1576, {s:16, c:TG});
addText(xTitle, 895, 1576, {s:16, c:TG});
</script></body></html>
